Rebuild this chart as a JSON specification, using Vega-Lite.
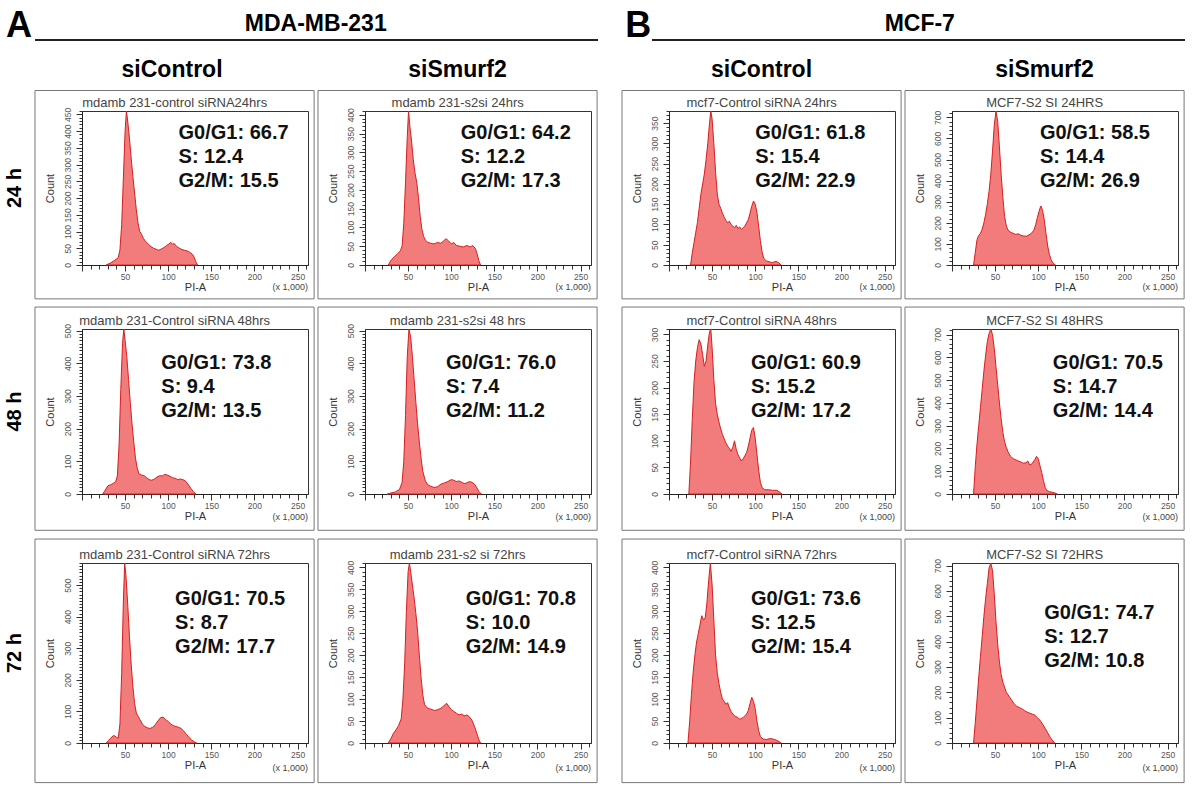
{
"$schema":"https://vega.github.io/schema/vega-lite/v6.json",
"background":"white",
"padding":{"left":4,"top":8,"right":4,"bottom":4},
"config":{
"font":"Liberation Sans",
"view":{"stroke":"#333","strokeWidth":1},
"axis":{"labelFont":"Liberation Sans","labelFontSize":8.5,"labelColor":"#555","titleFont":"Liberation Sans","titleFontSize":11,"titleFontWeight":"normal","titleColor":"#333","domainColor":"#222","tickColor":"#333","grid":false,"labelPadding":1},
"axisX":{"titlePadding":1,"labelFlush":false},
"axisY":{"labelAngle":270,"titlePadding":8,"labelPadding":4},
"title":{"font":"Liberation Sans","color":"#000","fontWeight":"bold"},
"text":{"font":"Liberation Sans"}
},
"datasets":{
"groups":[{"letter":"A","cell_line":"MDA-MB-231"},{"letter":"B","cell_line":"MCF-7"}],
"panels":[
{"panel":"A24c","caption":"mdamb 231-control siRNA24hrs"},
{"panel":"A24s","caption":"mdamb 231-s2si 24hrs"},
{"panel":"A48c","caption":"mdamb 231-Control siRNA 48hrs"},
{"panel":"A48s","caption":"mdamb 231-s2si 48 hrs"},
{"panel":"A72c","caption":"mdamb 231-Control siRNA 72hrs"},
{"panel":"A72s","caption":"mdamb 231-s2 si 72hrs"},
{"panel":"B24c","caption":"mcf7-Control siRNA 24hrs"},
{"panel":"B24s","caption":"MCF7-S2 SI 24HRS"},
{"panel":"B48c","caption":"mcf7-Control siRNA 48hrs"},
{"panel":"B48s","caption":"MCF7-S2 SI 48HRS"},
{"panel":"B72c","caption":"mcf7-Control siRNA 72hrs"},
{"panel":"B72s","caption":"MCF7-S2 SI 72HRS"}],
"stats":[
{"panel":"A24c","line":1,"label":"G0/G1: 66.7"},{"panel":"A24c","line":2,"label":"S: 12.4"},{"panel":"A24c","line":3,"label":"G2/M: 15.5"},
{"panel":"A24s","line":1,"label":"G0/G1: 64.2"},{"panel":"A24s","line":2,"label":"S: 12.2"},{"panel":"A24s","line":3,"label":"G2/M: 17.3"},
{"panel":"A48c","line":1,"label":"G0/G1: 73.8"},{"panel":"A48c","line":2,"label":"S: 9.4"},{"panel":"A48c","line":3,"label":"G2/M: 13.5"},
{"panel":"A48s","line":1,"label":"G0/G1: 76.0"},{"panel":"A48s","line":2,"label":"S: 7.4"},{"panel":"A48s","line":3,"label":"G2/M: 11.2"},
{"panel":"A72c","line":1,"label":"G0/G1: 70.5"},{"panel":"A72c","line":2,"label":"S: 8.7"},{"panel":"A72c","line":3,"label":"G2/M: 17.7"},
{"panel":"A72s","line":1,"label":"G0/G1: 70.8"},{"panel":"A72s","line":2,"label":"S: 10.0"},{"panel":"A72s","line":3,"label":"G2/M: 14.9"},
{"panel":"B24c","line":1,"label":"G0/G1: 61.8"},{"panel":"B24c","line":2,"label":"S: 15.4"},{"panel":"B24c","line":3,"label":"G2/M: 22.9"},
{"panel":"B24s","line":1,"label":"G0/G1: 58.5"},{"panel":"B24s","line":2,"label":"S: 14.4"},{"panel":"B24s","line":3,"label":"G2/M: 26.9"},
{"panel":"B48c","line":1,"label":"G0/G1: 60.9"},{"panel":"B48c","line":2,"label":"S: 15.2"},{"panel":"B48c","line":3,"label":"G2/M: 17.2"},
{"panel":"B48s","line":1,"label":"G0/G1: 70.5"},{"panel":"B48s","line":2,"label":"S: 14.7"},{"panel":"B48s","line":3,"label":"G2/M: 14.4"},
{"panel":"B72c","line":1,"label":"G0/G1: 73.6"},{"panel":"B72c","line":2,"label":"S: 12.5"},{"panel":"B72c","line":3,"label":"G2/M: 15.4"},
{"panel":"B72s","line":1,"label":"G0/G1: 74.7"},{"panel":"B72s","line":2,"label":"S: 12.7"},{"panel":"B72s","line":3,"label":"G2/M: 10.8"}],
"hist":[
{"panel":"A24c","pia":28,"count":0},{"panel":"A24c","pia":33,"count":6},{"panel":"A24c","pia":38,"count":14},{"panel":"A24c","pia":42,"count":22},{"panel":"A24c","pia":44,"count":45},{"panel":"A24c","pia":46,"count":120},{"panel":"A24c","pia":48,"count":260},{"panel":"A24c","pia":50,"count":400},{"panel":"A24c","pia":51.5,"count":460},{"panel":"A24c","pia":53,"count":430},{"panel":"A24c","pia":55,"count":380},{"panel":"A24c","pia":57,"count":320},{"panel":"A24c","pia":59,"count":265},{"panel":"A24c","pia":61,"count":215},{"panel":"A24c","pia":63,"count":165},{"panel":"A24c","pia":65,"count":125},{"panel":"A24c","pia":67,"count":100},{"panel":"A24c","pia":69,"count":92},{"panel":"A24c","pia":71,"count":80},{"panel":"A24c","pia":74,"count":70},{"panel":"A24c","pia":77,"count":62},{"panel":"A24c","pia":80,"count":55},{"panel":"A24c","pia":83,"count":50},{"panel":"A24c","pia":86,"count":47},{"panel":"A24c","pia":89,"count":44},{"panel":"A24c","pia":92,"count":48},{"panel":"A24c","pia":95,"count":52},{"panel":"A24c","pia":98,"count":58},{"panel":"A24c","pia":101,"count":63},{"panel":"A24c","pia":103,"count":68},{"panel":"A24c","pia":105,"count":62},{"panel":"A24c","pia":107,"count":64},{"panel":"A24c","pia":110,"count":55},{"panel":"A24c","pia":113,"count":50},{"panel":"A24c","pia":116,"count":46},{"panel":"A24c","pia":119,"count":44},{"panel":"A24c","pia":122,"count":42},{"panel":"A24c","pia":125,"count":38},{"panel":"A24c","pia":128,"count":32},{"panel":"A24c","pia":130,"count":24},{"panel":"A24c","pia":132,"count":10},{"panel":"A24c","pia":134,"count":0},
{"panel":"A24s","pia":27,"count":0},{"panel":"A24s","pia":30,"count":12},{"panel":"A24s","pia":34,"count":22},{"panel":"A24s","pia":38,"count":30},{"panel":"A24s","pia":41,"count":38},{"panel":"A24s","pia":43,"count":50},{"panel":"A24s","pia":45,"count":110},{"panel":"A24s","pia":47,"count":220},{"panel":"A24s","pia":49,"count":340},{"panel":"A24s","pia":50.5,"count":410},{"panel":"A24s","pia":52,"count":370},{"panel":"A24s","pia":54,"count":330},{"panel":"A24s","pia":56,"count":280},{"panel":"A24s","pia":58,"count":245},{"panel":"A24s","pia":60,"count":220},{"panel":"A24s","pia":62,"count":180},{"panel":"A24s","pia":64,"count":130},{"panel":"A24s","pia":66,"count":95},{"panel":"A24s","pia":68,"count":76},{"panel":"A24s","pia":70,"count":66},{"panel":"A24s","pia":73,"count":60},{"panel":"A24s","pia":76,"count":58},{"panel":"A24s","pia":80,"count":56},{"panel":"A24s","pia":84,"count":60},{"panel":"A24s","pia":88,"count":58},{"panel":"A24s","pia":91,"count":64},{"panel":"A24s","pia":94,"count":70},{"panel":"A24s","pia":97,"count":64},{"panel":"A24s","pia":100,"count":56},{"panel":"A24s","pia":103,"count":60},{"panel":"A24s","pia":106,"count":52},{"panel":"A24s","pia":110,"count":50},{"panel":"A24s","pia":114,"count":48},{"panel":"A24s","pia":118,"count":52},{"panel":"A24s","pia":122,"count":48},{"panel":"A24s","pia":125,"count":52},{"panel":"A24s","pia":128,"count":44},{"panel":"A24s","pia":130,"count":30},{"panel":"A24s","pia":132,"count":12},{"panel":"A24s","pia":134,"count":0},
{"panel":"A48c","pia":24,"count":0},{"panel":"A48c","pia":27,"count":12},{"panel":"A48c","pia":30,"count":25},{"panel":"A48c","pia":33,"count":28},{"panel":"A48c","pia":36,"count":32},{"panel":"A48c","pia":39,"count":38},{"panel":"A48c","pia":41,"count":55},{"panel":"A48c","pia":43,"count":150},{"panel":"A48c","pia":45,"count":320},{"panel":"A48c","pia":47,"count":460},{"panel":"A48c","pia":48.5,"count":505},{"panel":"A48c","pia":50,"count":470},{"panel":"A48c","pia":52,"count":420},{"panel":"A48c","pia":54,"count":350},{"panel":"A48c","pia":56,"count":280},{"panel":"A48c","pia":58,"count":215},{"panel":"A48c","pia":60,"count":160},{"panel":"A48c","pia":62,"count":110},{"panel":"A48c","pia":64,"count":80},{"panel":"A48c","pia":66,"count":62},{"panel":"A48c","pia":69,"count":58},{"panel":"A48c","pia":72,"count":56},{"panel":"A48c","pia":75,"count":50},{"panel":"A48c","pia":78,"count":44},{"panel":"A48c","pia":81,"count":42},{"panel":"A48c","pia":84,"count":46},{"panel":"A48c","pia":87,"count":52},{"panel":"A48c","pia":90,"count":56},{"panel":"A48c","pia":93,"count":55},{"panel":"A48c","pia":96,"count":60},{"panel":"A48c","pia":99,"count":58},{"panel":"A48c","pia":102,"count":54},{"panel":"A48c","pia":105,"count":50},{"panel":"A48c","pia":108,"count":48},{"panel":"A48c","pia":111,"count":44},{"panel":"A48c","pia":114,"count":46},{"panel":"A48c","pia":117,"count":44},{"panel":"A48c","pia":120,"count":40},{"panel":"A48c","pia":123,"count":30},{"panel":"A48c","pia":126,"count":18},{"panel":"A48c","pia":129,"count":8},{"panel":"A48c","pia":132,"count":0},
{"panel":"A48s","pia":26,"count":0},{"panel":"A48s","pia":30,"count":3},{"panel":"A48s","pia":35,"count":6},{"panel":"A48s","pia":40,"count":14},{"panel":"A48s","pia":43,"count":35},{"panel":"A48s","pia":45,"count":100},{"panel":"A48s","pia":47,"count":240},{"panel":"A48s","pia":49,"count":420},{"panel":"A48s","pia":51,"count":505},{"panel":"A48s","pia":53,"count":480},{"panel":"A48s","pia":55,"count":420},{"panel":"A48s","pia":57,"count":350},{"panel":"A48s","pia":59,"count":280},{"panel":"A48s","pia":61,"count":215},{"panel":"A48s","pia":63,"count":160},{"panel":"A48s","pia":65,"count":110},{"panel":"A48s","pia":67,"count":70},{"panel":"A48s","pia":70,"count":40},{"panel":"A48s","pia":73,"count":28},{"panel":"A48s","pia":76,"count":24},{"panel":"A48s","pia":80,"count":20},{"panel":"A48s","pia":84,"count":22},{"panel":"A48s","pia":88,"count":30},{"panel":"A48s","pia":92,"count":34},{"panel":"A48s","pia":96,"count":38},{"panel":"A48s","pia":100,"count":44},{"panel":"A48s","pia":103,"count":42},{"panel":"A48s","pia":106,"count":38},{"panel":"A48s","pia":109,"count":40},{"panel":"A48s","pia":112,"count":36},{"panel":"A48s","pia":115,"count":32},{"panel":"A48s","pia":118,"count":34},{"panel":"A48s","pia":121,"count":38},{"panel":"A48s","pia":124,"count":36},{"panel":"A48s","pia":127,"count":30},{"panel":"A48s","pia":130,"count":18},{"panel":"A48s","pia":132,"count":8},{"panel":"A48s","pia":135,"count":0},
{"panel":"A72c","pia":28,"count":0},{"panel":"A72c","pia":31,"count":8},{"panel":"A72c","pia":34,"count":18},{"panel":"A72c","pia":37,"count":24},{"panel":"A72c","pia":40,"count":18},{"panel":"A72c","pia":42,"count":15},{"panel":"A72c","pia":44,"count":60},{"panel":"A72c","pia":46,"count":220},{"panel":"A72c","pia":48,"count":450},{"panel":"A72c","pia":49.5,"count":570},{"panel":"A72c","pia":51,"count":530},{"panel":"A72c","pia":53,"count":440},{"panel":"A72c","pia":55,"count":340},{"panel":"A72c","pia":57,"count":250},{"panel":"A72c","pia":59,"count":180},{"panel":"A72c","pia":61,"count":125},{"panel":"A72c","pia":63,"count":95},{"panel":"A72c","pia":65,"count":85},{"panel":"A72c","pia":67,"count":75},{"panel":"A72c","pia":70,"count":60},{"panel":"A72c","pia":73,"count":52},{"panel":"A72c","pia":76,"count":48},{"panel":"A72c","pia":79,"count":46},{"panel":"A72c","pia":82,"count":50},{"panel":"A72c","pia":85,"count":58},{"panel":"A72c","pia":88,"count":70},{"panel":"A72c","pia":91,"count":80},{"panel":"A72c","pia":94,"count":82},{"panel":"A72c","pia":97,"count":74},{"panel":"A72c","pia":100,"count":68},{"panel":"A72c","pia":103,"count":60},{"panel":"A72c","pia":106,"count":55},{"panel":"A72c","pia":109,"count":52},{"panel":"A72c","pia":112,"count":50},{"panel":"A72c","pia":115,"count":46},{"panel":"A72c","pia":118,"count":38},{"panel":"A72c","pia":121,"count":28},{"panel":"A72c","pia":124,"count":18},{"panel":"A72c","pia":127,"count":10},{"panel":"A72c","pia":130,"count":4},{"panel":"A72c","pia":133,"count":0},
{"panel":"A72s","pia":27,"count":0},{"panel":"A72s","pia":30,"count":10},{"panel":"A72s","pia":33,"count":22},{"panel":"A72s","pia":36,"count":30},{"panel":"A72s","pia":39,"count":40},{"panel":"A72s","pia":42,"count":55},{"panel":"A72s","pia":44,"count":100},{"panel":"A72s","pia":46,"count":180},{"panel":"A72s","pia":48,"count":300},{"panel":"A72s","pia":50,"count":390},{"panel":"A72s","pia":51.5,"count":410},{"panel":"A72s","pia":53,"count":390},{"panel":"A72s","pia":55,"count":360},{"panel":"A72s","pia":57,"count":330},{"panel":"A72s","pia":59,"count":295},{"panel":"A72s","pia":61,"count":255},{"panel":"A72s","pia":63,"count":200},{"panel":"A72s","pia":65,"count":150},{"panel":"A72s","pia":67,"count":110},{"panel":"A72s","pia":69,"count":88},{"panel":"A72s","pia":72,"count":80},{"panel":"A72s","pia":75,"count":78},{"panel":"A72s","pia":78,"count":76},{"panel":"A72s","pia":81,"count":74},{"panel":"A72s","pia":84,"count":76},{"panel":"A72s","pia":87,"count":78},{"panel":"A72s","pia":90,"count":82},{"panel":"A72s","pia":93,"count":88},{"panel":"A72s","pia":95,"count":90},{"panel":"A72s","pia":97,"count":84},{"panel":"A72s","pia":100,"count":76},{"panel":"A72s","pia":103,"count":72},{"panel":"A72s","pia":106,"count":68},{"panel":"A72s","pia":109,"count":64},{"panel":"A72s","pia":112,"count":66},{"panel":"A72s","pia":115,"count":62},{"panel":"A72s","pia":118,"count":64},{"panel":"A72s","pia":121,"count":60},{"panel":"A72s","pia":124,"count":52},{"panel":"A72s","pia":127,"count":38},{"panel":"A72s","pia":130,"count":20},{"panel":"A72s","pia":132,"count":8},{"panel":"A72s","pia":134,"count":0},
{"panel":"B24c","pia":25,"count":0},{"panel":"B24c","pia":27,"count":30},{"panel":"B24c","pia":29,"count":55},{"panel":"B24c","pia":31,"count":80},{"panel":"B24c","pia":33,"count":105},{"panel":"B24c","pia":35,"count":140},{"panel":"B24c","pia":37,"count":175},{"panel":"B24c","pia":39,"count":200},{"panel":"B24c","pia":41,"count":225},{"panel":"B24c","pia":43,"count":260},{"panel":"B24c","pia":45,"count":300},{"panel":"B24c","pia":47,"count":350},{"panel":"B24c","pia":48.5,"count":380},{"panel":"B24c","pia":50,"count":360},{"panel":"B24c","pia":52,"count":300},{"panel":"B24c","pia":54,"count":230},{"panel":"B24c","pia":56,"count":175},{"panel":"B24c","pia":58,"count":150},{"panel":"B24c","pia":60,"count":140},{"panel":"B24c","pia":62,"count":128},{"panel":"B24c","pia":64,"count":118},{"panel":"B24c","pia":66,"count":110},{"panel":"B24c","pia":68,"count":104},{"panel":"B24c","pia":70,"count":108},{"panel":"B24c","pia":72,"count":100},{"panel":"B24c","pia":74,"count":96},{"panel":"B24c","pia":76,"count":92},{"panel":"B24c","pia":78,"count":98},{"panel":"B24c","pia":80,"count":90},{"panel":"B24c","pia":82,"count":94},{"panel":"B24c","pia":84,"count":88},{"panel":"B24c","pia":86,"count":92},{"panel":"B24c","pia":88,"count":96},{"panel":"B24c","pia":90,"count":104},{"panel":"B24c","pia":92,"count":112},{"panel":"B24c","pia":94,"count":128},{"panel":"B24c","pia":96,"count":145},{"panel":"B24c","pia":98,"count":158},{"panel":"B24c","pia":100,"count":150},{"panel":"B24c","pia":102,"count":130},{"panel":"B24c","pia":104,"count":95},{"panel":"B24c","pia":106,"count":60},{"panel":"B24c","pia":108,"count":32},{"panel":"B24c","pia":110,"count":16},{"panel":"B24c","pia":113,"count":10},{"panel":"B24c","pia":116,"count":8},{"panel":"B24c","pia":120,"count":6},{"panel":"B24c","pia":124,"count":9},{"panel":"B24c","pia":127,"count":6},{"panel":"B24c","pia":130,"count":0},
{"panel":"B24s","pia":25,"count":0},{"panel":"B24s","pia":27,"count":60},{"panel":"B24s","pia":29,"count":120},{"panel":"B24s","pia":31,"count":140},{"panel":"B24s","pia":33,"count":150},{"panel":"B24s","pia":35,"count":170},{"panel":"B24s","pia":37,"count":200},{"panel":"B24s","pia":39,"count":240},{"panel":"B24s","pia":41,"count":290},{"panel":"B24s","pia":43,"count":350},{"panel":"B24s","pia":45,"count":430},{"panel":"B24s","pia":47,"count":540},{"panel":"B24s","pia":49,"count":660},{"panel":"B24s","pia":51,"count":730},{"panel":"B24s","pia":53,"count":680},{"panel":"B24s","pia":55,"count":560},{"panel":"B24s","pia":57,"count":430},{"panel":"B24s","pia":59,"count":320},{"panel":"B24s","pia":61,"count":230},{"panel":"B24s","pia":63,"count":185},{"panel":"B24s","pia":65,"count":165},{"panel":"B24s","pia":68,"count":155},{"panel":"B24s","pia":71,"count":150},{"panel":"B24s","pia":74,"count":145},{"panel":"B24s","pia":77,"count":148},{"panel":"B24s","pia":80,"count":140},{"panel":"B24s","pia":83,"count":138},{"panel":"B24s","pia":86,"count":136},{"panel":"B24s","pia":89,"count":142},{"panel":"B24s","pia":92,"count":150},{"panel":"B24s","pia":95,"count":165},{"panel":"B24s","pia":97,"count":190},{"panel":"B24s","pia":99,"count":225},{"panel":"B24s","pia":101,"count":255},{"panel":"B24s","pia":103,"count":280},{"panel":"B24s","pia":105,"count":260},{"panel":"B24s","pia":107,"count":215},{"panel":"B24s","pia":109,"count":150},{"panel":"B24s","pia":111,"count":90},{"panel":"B24s","pia":113,"count":50},{"panel":"B24s","pia":115,"count":25},{"panel":"B24s","pia":117,"count":10},{"panel":"B24s","pia":120,"count":0},
{"panel":"B48c","pia":23,"count":0},{"panel":"B48c","pia":25,"count":60},{"panel":"B48c","pia":27,"count":140},{"panel":"B48c","pia":29,"count":210},{"panel":"B48c","pia":31,"count":250},{"panel":"B48c","pia":33,"count":275},{"panel":"B48c","pia":35,"count":290},{"panel":"B48c","pia":37,"count":282},{"panel":"B48c","pia":39,"count":262},{"panel":"B48c","pia":41,"count":240},{"panel":"B48c","pia":43,"count":250},{"panel":"B48c","pia":45,"count":280},{"panel":"B48c","pia":47,"count":305},{"panel":"B48c","pia":48.5,"count":310},{"panel":"B48c","pia":50,"count":275},{"panel":"B48c","pia":52,"count":215},{"panel":"B48c","pia":54,"count":170},{"panel":"B48c","pia":56,"count":150},{"panel":"B48c","pia":58,"count":135},{"panel":"B48c","pia":60,"count":122},{"panel":"B48c","pia":62,"count":112},{"panel":"B48c","pia":64,"count":104},{"panel":"B48c","pia":66,"count":96},{"panel":"B48c","pia":68,"count":90},{"panel":"B48c","pia":70,"count":86},{"panel":"B48c","pia":72,"count":80},{"panel":"B48c","pia":74,"count":88},{"panel":"B48c","pia":76,"count":100},{"panel":"B48c","pia":78,"count":84},{"panel":"B48c","pia":80,"count":74},{"panel":"B48c","pia":82,"count":68},{"panel":"B48c","pia":84,"count":62},{"panel":"B48c","pia":86,"count":66},{"panel":"B48c","pia":88,"count":72},{"panel":"B48c","pia":90,"count":78},{"panel":"B48c","pia":92,"count":90},{"panel":"B48c","pia":94,"count":105},{"panel":"B48c","pia":96,"count":120},{"panel":"B48c","pia":98,"count":125},{"panel":"B48c","pia":100,"count":105},{"panel":"B48c","pia":102,"count":75},{"panel":"B48c","pia":104,"count":45},{"panel":"B48c","pia":106,"count":22},{"panel":"B48c","pia":108,"count":12},{"panel":"B48c","pia":111,"count":8},{"panel":"B48c","pia":115,"count":8},{"panel":"B48c","pia":120,"count":7},{"panel":"B48c","pia":125,"count":7},{"panel":"B48c","pia":128,"count":4},{"panel":"B48c","pia":131,"count":0},
{"panel":"B48s","pia":25,"count":0},{"panel":"B48s","pia":27,"count":120},{"panel":"B48s","pia":29,"count":220},{"panel":"B48s","pia":31,"count":300},{"panel":"B48s","pia":33,"count":380},{"panel":"B48s","pia":35,"count":460},{"panel":"B48s","pia":37,"count":540},{"panel":"B48s","pia":39,"count":610},{"panel":"B48s","pia":41,"count":670},{"panel":"B48s","pia":43,"count":705},{"panel":"B48s","pia":45,"count":725},{"panel":"B48s","pia":47,"count":700},{"panel":"B48s","pia":49,"count":640},{"panel":"B48s","pia":51,"count":560},{"panel":"B48s","pia":53,"count":480},{"panel":"B48s","pia":55,"count":400},{"panel":"B48s","pia":57,"count":330},{"panel":"B48s","pia":59,"count":270},{"panel":"B48s","pia":61,"count":230},{"panel":"B48s","pia":63,"count":205},{"panel":"B48s","pia":65,"count":185},{"panel":"B48s","pia":68,"count":165},{"panel":"B48s","pia":71,"count":155},{"panel":"B48s","pia":74,"count":150},{"panel":"B48s","pia":77,"count":145},{"panel":"B48s","pia":80,"count":140},{"panel":"B48s","pia":83,"count":135},{"panel":"B48s","pia":86,"count":138},{"panel":"B48s","pia":88,"count":145},{"panel":"B48s","pia":90,"count":128},{"panel":"B48s","pia":92,"count":130},{"panel":"B48s","pia":94,"count":140},{"panel":"B48s","pia":96,"count":150},{"panel":"B48s","pia":98,"count":165},{"panel":"B48s","pia":100,"count":155},{"panel":"B48s","pia":102,"count":125},{"panel":"B48s","pia":104,"count":95},{"panel":"B48s","pia":106,"count":60},{"panel":"B48s","pia":108,"count":30},{"panel":"B48s","pia":110,"count":15},{"panel":"B48s","pia":113,"count":10},{"panel":"B48s","pia":116,"count":8},{"panel":"B48s","pia":119,"count":5},{"panel":"B48s","pia":122,"count":0},
{"panel":"B72c","pia":22,"count":0},{"panel":"B72c","pia":24,"count":50},{"panel":"B72c","pia":26,"count":110},{"panel":"B72c","pia":28,"count":160},{"panel":"B72c","pia":30,"count":200},{"panel":"B72c","pia":32,"count":230},{"panel":"B72c","pia":34,"count":250},{"panel":"B72c","pia":36,"count":270},{"panel":"B72c","pia":38,"count":290},{"panel":"B72c","pia":40,"count":280},{"panel":"B72c","pia":42,"count":285},{"panel":"B72c","pia":44,"count":320},{"panel":"B72c","pia":46,"count":370},{"panel":"B72c","pia":48,"count":410},{"panel":"B72c","pia":50,"count":360},{"panel":"B72c","pia":52,"count":280},{"panel":"B72c","pia":54,"count":200},{"panel":"B72c","pia":56,"count":160},{"panel":"B72c","pia":58,"count":135},{"panel":"B72c","pia":60,"count":115},{"panel":"B72c","pia":62,"count":100},{"panel":"B72c","pia":64,"count":95},{"panel":"B72c","pia":66,"count":88},{"panel":"B72c","pia":68,"count":92},{"panel":"B72c","pia":70,"count":80},{"panel":"B72c","pia":72,"count":72},{"panel":"B72c","pia":74,"count":66},{"panel":"B72c","pia":76,"count":62},{"panel":"B72c","pia":78,"count":60},{"panel":"B72c","pia":80,"count":58},{"panel":"B72c","pia":82,"count":54},{"panel":"B72c","pia":84,"count":56},{"panel":"B72c","pia":86,"count":58},{"panel":"B72c","pia":88,"count":62},{"panel":"B72c","pia":90,"count":66},{"panel":"B72c","pia":92,"count":74},{"panel":"B72c","pia":94,"count":90},{"panel":"B72c","pia":96,"count":104},{"panel":"B72c","pia":98,"count":95},{"panel":"B72c","pia":100,"count":78},{"panel":"B72c","pia":102,"count":50},{"panel":"B72c","pia":104,"count":28},{"panel":"B72c","pia":106,"count":15},{"panel":"B72c","pia":109,"count":9},{"panel":"B72c","pia":113,"count":8},{"panel":"B72c","pia":117,"count":10},{"panel":"B72c","pia":121,"count":9},{"panel":"B72c","pia":125,"count":6},{"panel":"B72c","pia":128,"count":3},{"panel":"B72c","pia":130,"count":0},
{"panel":"B72s","pia":25,"count":0},{"panel":"B72s","pia":27,"count":80},{"panel":"B72s","pia":29,"count":170},{"panel":"B72s","pia":31,"count":260},{"panel":"B72s","pia":33,"count":340},{"panel":"B72s","pia":35,"count":420},{"panel":"B72s","pia":37,"count":500},{"panel":"B72s","pia":39,"count":570},{"panel":"B72s","pia":41,"count":630},{"panel":"B72s","pia":43,"count":690},{"panel":"B72s","pia":45,"count":710},{"panel":"B72s","pia":47,"count":680},{"panel":"B72s","pia":49,"count":590},{"panel":"B72s","pia":51,"count":480},{"panel":"B72s","pia":53,"count":390},{"panel":"B72s","pia":55,"count":320},{"panel":"B72s","pia":57,"count":270},{"panel":"B72s","pia":59,"count":240},{"panel":"B72s","pia":61,"count":220},{"panel":"B72s","pia":63,"count":200},{"panel":"B72s","pia":66,"count":185},{"panel":"B72s","pia":69,"count":170},{"panel":"B72s","pia":72,"count":155},{"panel":"B72s","pia":75,"count":145},{"panel":"B72s","pia":78,"count":140},{"panel":"B72s","pia":81,"count":135},{"panel":"B72s","pia":84,"count":128},{"panel":"B72s","pia":87,"count":122},{"panel":"B72s","pia":90,"count":118},{"panel":"B72s","pia":93,"count":114},{"panel":"B72s","pia":96,"count":110},{"panel":"B72s","pia":99,"count":100},{"panel":"B72s","pia":102,"count":90},{"panel":"B72s","pia":105,"count":75},{"panel":"B72s","pia":108,"count":58},{"panel":"B72s","pia":111,"count":40},{"panel":"B72s","pia":114,"count":22},{"panel":"B72s","pia":117,"count":8},{"panel":"B72s","pia":119,"count":0}
]
},
"spacing":21,
"hconcat":[
{"spacing":14,"vconcat":[
 {"width":516,"height":1,"view":{"stroke":null},"data":{"name":"groups"},"transform":[{"filter":{"field":"letter","equal":"A"}}],
  "layer":[
   {"mark":{"type":"rule","color":"#222","strokeWidth":2},"encoding":{"x":{"datum":-0.091,"scale":{"domain":[0,1],"nice":false},"axis":null},"x2":{"datum":1},"y":{"datum":0,"scale":{"domain":[0,1],"nice":false},"axis":null}}},
   {"mark":{"type":"text","fontSize":36,"fontWeight":"bold","align":"right","baseline":"alphabetic","dx":-3,"dy":-3,"color":"#000"},"encoding":{"text":{"field":"letter"},"x":{"datum":-0.091},"y":{"datum":0}}},
   {"mark":{"type":"text","fontSize":23,"fontWeight":"bold","align":"center","baseline":"alphabetic","dy":-9,"color":"#000"},"encoding":{"text":{"field":"cell_line"},"x":{"datum":0.453},"y":{"datum":0}}}
  ]},
 {"spacing":0,"hconcat":[
  {"title":{"text":"siControl","fontSize":23,"anchor":"middle","offset":8,"dx":12},"spacing":6,"vconcat":[
   {"width":226,"height":154,"title":{"text":"24 h","orient":"left","fontSize":20,"anchor":"middle","offset":9},"resolve":{"scale":{"x":"independent","y":"independent"}},"layer":[
    {"data":{"name":"hist"},"transform":[{"filter":{"field":"panel","equal":"A24c"}}],"mark":{"type":"area","fill":"#F27B7B","stroke":"#D81E1E","strokeWidth":1},"encoding":{"x":{"field":"pia","type":"quantitative","scale":{"domain":[0,262.144],"nice":false,"zero":false},"axis":{"title":"PI-A","tickCount":26,"labelExpr":"datum.value % 50 === 0 && datum.value > 0 ? datum.label : ''","tickSize":{"condition":{"test":"datum.value % 50 === 0","value":6},"value":4}}},"y":{"field":"count","type":"quantitative","scale":{"domain":[0,460],"nice":false},"axis":{"title":"Count","tickCount":46,"labelExpr":"datum.value % 50 === 0 ? datum.label : ''","tickSize":{"condition":{"test":"datum.value % 50 === 0","value":6},"value":3}}}}},
    {"data":{"name":"panels"},"transform":[{"filter":{"field":"panel","equal":"A24c"}}],"mark":{"type":"rect","filled":false,"color":"#777","strokeWidth":1},"encoding":{"x":{"datum":-0.208,"scale":{"domain":[0,1],"nice":false},"axis":null},"x2":{"datum":1.027},"y":{"datum":-0.22,"scale":{"domain":[0,1],"nice":false},"axis":null},"y2":{"datum":1.133}}},
    {"data":{"name":"panels"},"transform":[{"filter":{"field":"panel","equal":"A24c"}}],"mark":{"type":"text","fontSize":13,"color":"#444","baseline":"bottom","dy":-1},"encoding":{"text":{"field":"caption"},"x":{"datum":0.41,"scale":{"domain":[0,1],"nice":false},"axis":null},"y":{"datum":1,"scale":{"domain":[0,1],"nice":false},"axis":null}}},
    {"data":{"name":"panels"},"transform":[{"filter":{"field":"panel","equal":"A24c"}}],"mark":{"type":"text","fontSize":9,"color":"#444","align":"right","baseline":"middle"},"encoding":{"text":{"value":"(x 1,000)"},"x":{"datum":1,"scale":{"domain":[0,1],"nice":false},"axis":null},"y":{"datum":-0.14,"scale":{"domain":[0,1],"nice":false},"axis":null}}},
    {"data":{"name":"stats"},"transform":[{"filter":{"field":"panel","equal":"A24c"}}],"mark":{"type":"text","fontSize":20,"fontWeight":"bold","color":"#111","align":"left","baseline":"middle"},"encoding":{"text":{"field":"label"},"x":{"datum":112,"scale":{"domain":[0,262.144],"nice":false},"axis":null},"y":{"field":"line","type":"quantitative","scale":{"domain":[0.083,6.5],"reverse":true,"nice":false,"zero":false},"axis":null}}}
   ]},
   {"width":226,"height":165,"title":{"text":"48 h","orient":"left","fontSize":20,"anchor":"middle","offset":9},"resolve":{"scale":{"x":"independent","y":"independent"}},"layer":[
    {"data":{"name":"hist"},"transform":[{"filter":{"field":"panel","equal":"A48c"}}],"mark":{"type":"area","fill":"#F27B7B","stroke":"#D81E1E","strokeWidth":1},"encoding":{"x":{"field":"pia","type":"quantitative","scale":{"domain":[0,262.144],"nice":false,"zero":false},"axis":{"title":"PI-A","tickCount":26,"labelExpr":"datum.value % 50 === 0 && datum.value > 0 ? datum.label : ''","tickSize":{"condition":{"test":"datum.value % 50 === 0","value":6},"value":4}}},"y":{"field":"count","type":"quantitative","scale":{"domain":[0,505],"nice":false},"axis":{"title":"Count","tickCount":50,"labelExpr":"datum.value % 100 === 0 ? datum.label : ''","tickSize":{"condition":{"test":"datum.value % 100 === 0","value":6},"value":3}}}}},
    {"data":{"name":"panels"},"transform":[{"filter":{"field":"panel","equal":"A48c"}}],"mark":{"type":"rect","filled":false,"color":"#777","strokeWidth":1},"encoding":{"x":{"datum":-0.208,"scale":{"domain":[0,1],"nice":false},"axis":null},"x2":{"datum":1.027},"y":{"datum":-0.22,"scale":{"domain":[0,1],"nice":false},"axis":null},"y2":{"datum":1.133}}},
    {"data":{"name":"panels"},"transform":[{"filter":{"field":"panel","equal":"A48c"}}],"mark":{"type":"text","fontSize":13,"color":"#444","baseline":"bottom","dy":-1},"encoding":{"text":{"field":"caption"},"x":{"datum":0.41,"scale":{"domain":[0,1],"nice":false},"axis":null},"y":{"datum":1,"scale":{"domain":[0,1],"nice":false},"axis":null}}},
    {"data":{"name":"panels"},"transform":[{"filter":{"field":"panel","equal":"A48c"}}],"mark":{"type":"text","fontSize":9,"color":"#444","align":"right","baseline":"middle"},"encoding":{"text":{"value":"(x 1,000)"},"x":{"datum":1,"scale":{"domain":[0,1],"nice":false},"axis":null},"y":{"datum":-0.14,"scale":{"domain":[0,1],"nice":false},"axis":null}}},
    {"data":{"name":"stats"},"transform":[{"filter":{"field":"panel","equal":"A48c"}}],"mark":{"type":"text","fontSize":20,"fontWeight":"bold","color":"#111","align":"left","baseline":"middle"},"encoding":{"text":{"field":"label"},"x":{"datum":92,"scale":{"domain":[0,262.144],"nice":false},"axis":null},"y":{"field":"line","type":"quantitative","scale":{"domain":[-0.417,6.458],"reverse":true,"nice":false,"zero":false},"axis":null}}}
   ]},
   {"width":226,"height":180,"title":{"text":"72 h","orient":"left","fontSize":20,"anchor":"middle","offset":9},"resolve":{"scale":{"x":"independent","y":"independent"}},"layer":[
    {"data":{"name":"hist"},"transform":[{"filter":{"field":"panel","equal":"A72c"}}],"mark":{"type":"area","fill":"#F27B7B","stroke":"#D81E1E","strokeWidth":1},"encoding":{"x":{"field":"pia","type":"quantitative","scale":{"domain":[0,262.144],"nice":false,"zero":false},"axis":{"title":"PI-A","tickCount":26,"labelExpr":"datum.value % 50 === 0 && datum.value > 0 ? datum.label : ''","tickSize":{"condition":{"test":"datum.value % 50 === 0","value":6},"value":4}}},"y":{"field":"count","type":"quantitative","scale":{"domain":[0,570],"nice":false},"axis":{"title":"Count","tickCount":57,"labelExpr":"datum.value % 100 === 0 ? datum.label : ''","tickSize":{"condition":{"test":"datum.value % 100 === 0","value":6},"value":3}}}}},
    {"data":{"name":"panels"},"transform":[{"filter":{"field":"panel","equal":"A72c"}}],"mark":{"type":"rect","filled":false,"color":"#777","strokeWidth":1},"encoding":{"x":{"datum":-0.208,"scale":{"domain":[0,1],"nice":false},"axis":null},"x2":{"datum":1.027},"y":{"datum":-0.22,"scale":{"domain":[0,1],"nice":false},"axis":null},"y2":{"datum":1.133}}},
    {"data":{"name":"panels"},"transform":[{"filter":{"field":"panel","equal":"A72c"}}],"mark":{"type":"text","fontSize":13,"color":"#444","baseline":"bottom","dy":-1},"encoding":{"text":{"field":"caption"},"x":{"datum":0.41,"scale":{"domain":[0,1],"nice":false},"axis":null},"y":{"datum":1,"scale":{"domain":[0,1],"nice":false},"axis":null}}},
    {"data":{"name":"panels"},"transform":[{"filter":{"field":"panel","equal":"A72c"}}],"mark":{"type":"text","fontSize":9,"color":"#444","align":"right","baseline":"middle"},"encoding":{"text":{"value":"(x 1,000)"},"x":{"datum":1,"scale":{"domain":[0,1],"nice":false},"axis":null},"y":{"datum":-0.14,"scale":{"domain":[0,1],"nice":false},"axis":null}}},
    {"data":{"name":"stats"},"transform":[{"filter":{"field":"panel","equal":"A72c"}}],"mark":{"type":"text","fontSize":20,"fontWeight":"bold","color":"#111","align":"left","baseline":"middle"},"encoding":{"text":{"field":"label"},"x":{"datum":108,"scale":{"domain":[0,262.144],"nice":false},"axis":null},"y":{"field":"line","type":"quantitative","scale":{"domain":[-0.5,7.0],"reverse":true,"nice":false,"zero":false},"axis":null}}}
   ]}
  ]},
  {"title":{"text":"siSmurf2","fontSize":23,"anchor":"middle","offset":8},"spacing":6,"vconcat":[
   {"width":226,"height":154,"resolve":{"scale":{"x":"independent","y":"independent"}},"layer":[
    {"data":{"name":"hist"},"transform":[{"filter":{"field":"panel","equal":"A24s"}}],"mark":{"type":"area","fill":"#F27B7B","stroke":"#D81E1E","strokeWidth":1},"encoding":{"x":{"field":"pia","type":"quantitative","scale":{"domain":[0,262.144],"nice":false,"zero":false},"axis":{"title":"PI-A","tickCount":26,"labelExpr":"datum.value % 50 === 0 && datum.value > 0 ? datum.label : ''","tickSize":{"condition":{"test":"datum.value % 50 === 0","value":6},"value":4}}},"y":{"field":"count","type":"quantitative","scale":{"domain":[0,410],"nice":false},"axis":{"title":"Count","tickCount":41,"labelExpr":"datum.value % 50 === 0 ? datum.label : ''","tickSize":{"condition":{"test":"datum.value % 50 === 0","value":6},"value":3}}}}},
    {"data":{"name":"panels"},"transform":[{"filter":{"field":"panel","equal":"A24s"}}],"mark":{"type":"rect","filled":false,"color":"#777","strokeWidth":1},"encoding":{"x":{"datum":-0.208,"scale":{"domain":[0,1],"nice":false},"axis":null},"x2":{"datum":1.027},"y":{"datum":-0.22,"scale":{"domain":[0,1],"nice":false},"axis":null},"y2":{"datum":1.133}}},
    {"data":{"name":"panels"},"transform":[{"filter":{"field":"panel","equal":"A24s"}}],"mark":{"type":"text","fontSize":13,"color":"#444","baseline":"bottom","dy":-1},"encoding":{"text":{"field":"caption"},"x":{"datum":0.41,"scale":{"domain":[0,1],"nice":false},"axis":null},"y":{"datum":1,"scale":{"domain":[0,1],"nice":false},"axis":null}}},
    {"data":{"name":"panels"},"transform":[{"filter":{"field":"panel","equal":"A24s"}}],"mark":{"type":"text","fontSize":9,"color":"#444","align":"right","baseline":"middle"},"encoding":{"text":{"value":"(x 1,000)"},"x":{"datum":1,"scale":{"domain":[0,1],"nice":false},"axis":null},"y":{"datum":-0.14,"scale":{"domain":[0,1],"nice":false},"axis":null}}},
    {"data":{"name":"stats"},"transform":[{"filter":{"field":"panel","equal":"A24s"}}],"mark":{"type":"text","fontSize":20,"fontWeight":"bold","color":"#111","align":"left","baseline":"middle"},"encoding":{"text":{"field":"label"},"x":{"datum":111,"scale":{"domain":[0,262.144],"nice":false},"axis":null},"y":{"field":"line","type":"quantitative","scale":{"domain":[0.083,6.5],"reverse":true,"nice":false,"zero":false},"axis":null}}}
   ]},
   {"width":226,"height":165,"resolve":{"scale":{"x":"independent","y":"independent"}},"layer":[
    {"data":{"name":"hist"},"transform":[{"filter":{"field":"panel","equal":"A48s"}}],"mark":{"type":"area","fill":"#F27B7B","stroke":"#D81E1E","strokeWidth":1},"encoding":{"x":{"field":"pia","type":"quantitative","scale":{"domain":[0,262.144],"nice":false,"zero":false},"axis":{"title":"PI-A","tickCount":26,"labelExpr":"datum.value % 50 === 0 && datum.value > 0 ? datum.label : ''","tickSize":{"condition":{"test":"datum.value % 50 === 0","value":6},"value":4}}},"y":{"field":"count","type":"quantitative","scale":{"domain":[0,505],"nice":false},"axis":{"title":"Count","tickCount":50,"labelExpr":"datum.value % 100 === 0 ? datum.label : ''","tickSize":{"condition":{"test":"datum.value % 100 === 0","value":6},"value":3}}}}},
    {"data":{"name":"panels"},"transform":[{"filter":{"field":"panel","equal":"A48s"}}],"mark":{"type":"rect","filled":false,"color":"#777","strokeWidth":1},"encoding":{"x":{"datum":-0.208,"scale":{"domain":[0,1],"nice":false},"axis":null},"x2":{"datum":1.027},"y":{"datum":-0.22,"scale":{"domain":[0,1],"nice":false},"axis":null},"y2":{"datum":1.133}}},
    {"data":{"name":"panels"},"transform":[{"filter":{"field":"panel","equal":"A48s"}}],"mark":{"type":"text","fontSize":13,"color":"#444","baseline":"bottom","dy":-1},"encoding":{"text":{"field":"caption"},"x":{"datum":0.41,"scale":{"domain":[0,1],"nice":false},"axis":null},"y":{"datum":1,"scale":{"domain":[0,1],"nice":false},"axis":null}}},
    {"data":{"name":"panels"},"transform":[{"filter":{"field":"panel","equal":"A48s"}}],"mark":{"type":"text","fontSize":9,"color":"#444","align":"right","baseline":"middle"},"encoding":{"text":{"value":"(x 1,000)"},"x":{"datum":1,"scale":{"domain":[0,1],"nice":false},"axis":null},"y":{"datum":-0.14,"scale":{"domain":[0,1],"nice":false},"axis":null}}},
    {"data":{"name":"stats"},"transform":[{"filter":{"field":"panel","equal":"A48s"}}],"mark":{"type":"text","fontSize":20,"fontWeight":"bold","color":"#111","align":"left","baseline":"middle"},"encoding":{"text":{"field":"label"},"x":{"datum":94,"scale":{"domain":[0,262.144],"nice":false},"axis":null},"y":{"field":"line","type":"quantitative","scale":{"domain":[-0.417,6.458],"reverse":true,"nice":false,"zero":false},"axis":null}}}
   ]},
   {"width":226,"height":180,"resolve":{"scale":{"x":"independent","y":"independent"}},"layer":[
    {"data":{"name":"hist"},"transform":[{"filter":{"field":"panel","equal":"A72s"}}],"mark":{"type":"area","fill":"#F27B7B","stroke":"#D81E1E","strokeWidth":1},"encoding":{"x":{"field":"pia","type":"quantitative","scale":{"domain":[0,262.144],"nice":false,"zero":false},"axis":{"title":"PI-A","tickCount":26,"labelExpr":"datum.value % 50 === 0 && datum.value > 0 ? datum.label : ''","tickSize":{"condition":{"test":"datum.value % 50 === 0","value":6},"value":4}}},"y":{"field":"count","type":"quantitative","scale":{"domain":[0,410],"nice":false},"axis":{"title":"Count","tickCount":41,"labelExpr":"datum.value % 50 === 0 ? datum.label : ''","tickSize":{"condition":{"test":"datum.value % 50 === 0","value":6},"value":3}}}}},
    {"data":{"name":"panels"},"transform":[{"filter":{"field":"panel","equal":"A72s"}}],"mark":{"type":"rect","filled":false,"color":"#777","strokeWidth":1},"encoding":{"x":{"datum":-0.208,"scale":{"domain":[0,1],"nice":false},"axis":null},"x2":{"datum":1.027},"y":{"datum":-0.22,"scale":{"domain":[0,1],"nice":false},"axis":null},"y2":{"datum":1.133}}},
    {"data":{"name":"panels"},"transform":[{"filter":{"field":"panel","equal":"A72s"}}],"mark":{"type":"text","fontSize":13,"color":"#444","baseline":"bottom","dy":-1},"encoding":{"text":{"field":"caption"},"x":{"datum":0.41,"scale":{"domain":[0,1],"nice":false},"axis":null},"y":{"datum":1,"scale":{"domain":[0,1],"nice":false},"axis":null}}},
    {"data":{"name":"panels"},"transform":[{"filter":{"field":"panel","equal":"A72s"}}],"mark":{"type":"text","fontSize":9,"color":"#444","align":"right","baseline":"middle"},"encoding":{"text":{"value":"(x 1,000)"},"x":{"datum":1,"scale":{"domain":[0,1],"nice":false},"axis":null},"y":{"datum":-0.14,"scale":{"domain":[0,1],"nice":false},"axis":null}}},
    {"data":{"name":"stats"},"transform":[{"filter":{"field":"panel","equal":"A72s"}}],"mark":{"type":"text","fontSize":20,"fontWeight":"bold","color":"#111","align":"left","baseline":"middle"},"encoding":{"text":{"field":"label"},"x":{"datum":117,"scale":{"domain":[0,262.144],"nice":false},"axis":null},"y":{"field":"line","type":"quantitative","scale":{"domain":[-0.5,7.0],"reverse":true,"nice":false,"zero":false},"axis":null}}}
   ]}
  ]}
 ]}
]},
{"spacing":14,"vconcat":[
 {"width":516,"height":1,"view":{"stroke":null},"data":{"name":"groups"},"transform":[{"filter":{"field":"letter","equal":"B"}}],
  "layer":[
   {"mark":{"type":"rule","color":"#222","strokeWidth":2},"encoding":{"x":{"datum":-0.033,"scale":{"domain":[0,1],"nice":false},"axis":null},"x2":{"datum":1},"y":{"datum":0,"scale":{"domain":[0,1],"nice":false},"axis":null}}},
   {"mark":{"type":"text","fontSize":36,"fontWeight":"bold","align":"left","baseline":"alphabetic","dy":-3,"color":"#000"},"encoding":{"text":{"field":"letter"},"x":{"datum":-0.085},"y":{"datum":0}}},
   {"mark":{"type":"text","fontSize":23,"fontWeight":"bold","align":"center","baseline":"alphabetic","dy":-9,"color":"#000"},"encoding":{"text":{"field":"cell_line"},"x":{"datum":0.486},"y":{"datum":0}}}
  ]},
 {"spacing":0,"hconcat":[
  {"title":{"text":"siControl","fontSize":23,"anchor":"middle","offset":8},"spacing":6,"vconcat":[
   {"width":226,"height":154,"resolve":{"scale":{"x":"independent","y":"independent"}},"layer":[
    {"data":{"name":"hist"},"transform":[{"filter":{"field":"panel","equal":"B24c"}}],"mark":{"type":"area","fill":"#F27B7B","stroke":"#D81E1E","strokeWidth":1},"encoding":{"x":{"field":"pia","type":"quantitative","scale":{"domain":[0,262.144],"nice":false,"zero":false},"axis":{"title":"PI-A","tickCount":26,"labelExpr":"datum.value % 50 === 0 && datum.value > 0 ? datum.label : ''","tickSize":{"condition":{"test":"datum.value % 50 === 0","value":6},"value":4}}},"y":{"field":"count","type":"quantitative","scale":{"domain":[0,380],"nice":false},"axis":{"title":"Count","tickCount":38,"labelExpr":"datum.value % 50 === 0 ? datum.label : ''","tickSize":{"condition":{"test":"datum.value % 50 === 0","value":6},"value":3}}}}},
    {"data":{"name":"panels"},"transform":[{"filter":{"field":"panel","equal":"B24c"}}],"mark":{"type":"rect","filled":false,"color":"#777","strokeWidth":1},"encoding":{"x":{"datum":-0.208,"scale":{"domain":[0,1],"nice":false},"axis":null},"x2":{"datum":1.027},"y":{"datum":-0.22,"scale":{"domain":[0,1],"nice":false},"axis":null},"y2":{"datum":1.133}}},
    {"data":{"name":"panels"},"transform":[{"filter":{"field":"panel","equal":"B24c"}}],"mark":{"type":"text","fontSize":13,"color":"#444","baseline":"bottom","dy":-1},"encoding":{"text":{"field":"caption"},"x":{"datum":0.41,"scale":{"domain":[0,1],"nice":false},"axis":null},"y":{"datum":1,"scale":{"domain":[0,1],"nice":false},"axis":null}}},
    {"data":{"name":"panels"},"transform":[{"filter":{"field":"panel","equal":"B24c"}}],"mark":{"type":"text","fontSize":9,"color":"#444","align":"right","baseline":"middle"},"encoding":{"text":{"value":"(x 1,000)"},"x":{"datum":1,"scale":{"domain":[0,1],"nice":false},"axis":null},"y":{"datum":-0.14,"scale":{"domain":[0,1],"nice":false},"axis":null}}},
    {"data":{"name":"stats"},"transform":[{"filter":{"field":"panel","equal":"B24c"}}],"mark":{"type":"text","fontSize":20,"fontWeight":"bold","color":"#111","align":"left","baseline":"middle"},"encoding":{"text":{"field":"label"},"x":{"datum":100,"scale":{"domain":[0,262.144],"nice":false},"axis":null},"y":{"field":"line","type":"quantitative","scale":{"domain":[0.083,6.5],"reverse":true,"nice":false,"zero":false},"axis":null}}}
   ]},
   {"width":226,"height":165,"resolve":{"scale":{"x":"independent","y":"independent"}},"layer":[
    {"data":{"name":"hist"},"transform":[{"filter":{"field":"panel","equal":"B48c"}}],"mark":{"type":"area","fill":"#F27B7B","stroke":"#D81E1E","strokeWidth":1},"encoding":{"x":{"field":"pia","type":"quantitative","scale":{"domain":[0,262.144],"nice":false,"zero":false},"axis":{"title":"PI-A","tickCount":26,"labelExpr":"datum.value % 50 === 0 && datum.value > 0 ? datum.label : ''","tickSize":{"condition":{"test":"datum.value % 50 === 0","value":6},"value":4}}},"y":{"field":"count","type":"quantitative","scale":{"domain":[0,310],"nice":false},"axis":{"title":"Count","tickCount":31,"labelExpr":"datum.value % 50 === 0 ? datum.label : ''","tickSize":{"condition":{"test":"datum.value % 50 === 0","value":6},"value":3}}}}},
    {"data":{"name":"panels"},"transform":[{"filter":{"field":"panel","equal":"B48c"}}],"mark":{"type":"rect","filled":false,"color":"#777","strokeWidth":1},"encoding":{"x":{"datum":-0.208,"scale":{"domain":[0,1],"nice":false},"axis":null},"x2":{"datum":1.027},"y":{"datum":-0.22,"scale":{"domain":[0,1],"nice":false},"axis":null},"y2":{"datum":1.133}}},
    {"data":{"name":"panels"},"transform":[{"filter":{"field":"panel","equal":"B48c"}}],"mark":{"type":"text","fontSize":13,"color":"#444","baseline":"bottom","dy":-1},"encoding":{"text":{"field":"caption"},"x":{"datum":0.41,"scale":{"domain":[0,1],"nice":false},"axis":null},"y":{"datum":1,"scale":{"domain":[0,1],"nice":false},"axis":null}}},
    {"data":{"name":"panels"},"transform":[{"filter":{"field":"panel","equal":"B48c"}}],"mark":{"type":"text","fontSize":9,"color":"#444","align":"right","baseline":"middle"},"encoding":{"text":{"value":"(x 1,000)"},"x":{"datum":1,"scale":{"domain":[0,1],"nice":false},"axis":null},"y":{"datum":-0.14,"scale":{"domain":[0,1],"nice":false},"axis":null}}},
    {"data":{"name":"stats"},"transform":[{"filter":{"field":"panel","equal":"B48c"}}],"mark":{"type":"text","fontSize":20,"fontWeight":"bold","color":"#111","align":"left","baseline":"middle"},"encoding":{"text":{"field":"label"},"x":{"datum":95,"scale":{"domain":[0,262.144],"nice":false},"axis":null},"y":{"field":"line","type":"quantitative","scale":{"domain":[-0.417,6.458],"reverse":true,"nice":false,"zero":false},"axis":null}}}
   ]},
   {"width":226,"height":180,"resolve":{"scale":{"x":"independent","y":"independent"}},"layer":[
    {"data":{"name":"hist"},"transform":[{"filter":{"field":"panel","equal":"B72c"}}],"mark":{"type":"area","fill":"#F27B7B","stroke":"#D81E1E","strokeWidth":1},"encoding":{"x":{"field":"pia","type":"quantitative","scale":{"domain":[0,262.144],"nice":false,"zero":false},"axis":{"title":"PI-A","tickCount":26,"labelExpr":"datum.value % 50 === 0 && datum.value > 0 ? datum.label : ''","tickSize":{"condition":{"test":"datum.value % 50 === 0","value":6},"value":4}}},"y":{"field":"count","type":"quantitative","scale":{"domain":[0,410],"nice":false},"axis":{"title":"Count","tickCount":41,"labelExpr":"datum.value % 50 === 0 ? datum.label : ''","tickSize":{"condition":{"test":"datum.value % 50 === 0","value":6},"value":3}}}}},
    {"data":{"name":"panels"},"transform":[{"filter":{"field":"panel","equal":"B72c"}}],"mark":{"type":"rect","filled":false,"color":"#777","strokeWidth":1},"encoding":{"x":{"datum":-0.208,"scale":{"domain":[0,1],"nice":false},"axis":null},"x2":{"datum":1.027},"y":{"datum":-0.22,"scale":{"domain":[0,1],"nice":false},"axis":null},"y2":{"datum":1.133}}},
    {"data":{"name":"panels"},"transform":[{"filter":{"field":"panel","equal":"B72c"}}],"mark":{"type":"text","fontSize":13,"color":"#444","baseline":"bottom","dy":-1},"encoding":{"text":{"field":"caption"},"x":{"datum":0.41,"scale":{"domain":[0,1],"nice":false},"axis":null},"y":{"datum":1,"scale":{"domain":[0,1],"nice":false},"axis":null}}},
    {"data":{"name":"panels"},"transform":[{"filter":{"field":"panel","equal":"B72c"}}],"mark":{"type":"text","fontSize":9,"color":"#444","align":"right","baseline":"middle"},"encoding":{"text":{"value":"(x 1,000)"},"x":{"datum":1,"scale":{"domain":[0,1],"nice":false},"axis":null},"y":{"datum":-0.14,"scale":{"domain":[0,1],"nice":false},"axis":null}}},
    {"data":{"name":"stats"},"transform":[{"filter":{"field":"panel","equal":"B72c"}}],"mark":{"type":"text","fontSize":20,"fontWeight":"bold","color":"#111","align":"left","baseline":"middle"},"encoding":{"text":{"field":"label"},"x":{"datum":95,"scale":{"domain":[0,262.144],"nice":false},"axis":null},"y":{"field":"line","type":"quantitative","scale":{"domain":[-0.5,7.0],"reverse":true,"nice":false,"zero":false},"axis":null}}}
   ]}
  ]},
  {"title":{"text":"siSmurf2","fontSize":23,"anchor":"middle","offset":8},"spacing":6,"vconcat":[
   {"width":226,"height":154,"resolve":{"scale":{"x":"independent","y":"independent"}},"layer":[
    {"data":{"name":"hist"},"transform":[{"filter":{"field":"panel","equal":"B24s"}}],"mark":{"type":"area","fill":"#F27B7B","stroke":"#D81E1E","strokeWidth":1},"encoding":{"x":{"field":"pia","type":"quantitative","scale":{"domain":[0,262.144],"nice":false,"zero":false},"axis":{"title":"PI-A","tickCount":26,"labelExpr":"datum.value % 50 === 0 && datum.value > 0 ? datum.label : ''","tickSize":{"condition":{"test":"datum.value % 50 === 0","value":6},"value":4}}},"y":{"field":"count","type":"quantitative","scale":{"domain":[0,730],"nice":false},"axis":{"title":"Count","tickCount":36,"labelExpr":"datum.value % 100 === 0 ? datum.label : ''","tickSize":{"condition":{"test":"datum.value % 100 === 0","value":6},"value":3}}}}},
    {"data":{"name":"panels"},"transform":[{"filter":{"field":"panel","equal":"B24s"}}],"mark":{"type":"rect","filled":false,"color":"#777","strokeWidth":1},"encoding":{"x":{"datum":-0.208,"scale":{"domain":[0,1],"nice":false},"axis":null},"x2":{"datum":1.027},"y":{"datum":-0.22,"scale":{"domain":[0,1],"nice":false},"axis":null},"y2":{"datum":1.133}}},
    {"data":{"name":"panels"},"transform":[{"filter":{"field":"panel","equal":"B24s"}}],"mark":{"type":"text","fontSize":13,"color":"#444","baseline":"bottom","dy":-1},"encoding":{"text":{"field":"caption"},"x":{"datum":0.41,"scale":{"domain":[0,1],"nice":false},"axis":null},"y":{"datum":1,"scale":{"domain":[0,1],"nice":false},"axis":null}}},
    {"data":{"name":"panels"},"transform":[{"filter":{"field":"panel","equal":"B24s"}}],"mark":{"type":"text","fontSize":9,"color":"#444","align":"right","baseline":"middle"},"encoding":{"text":{"value":"(x 1,000)"},"x":{"datum":1,"scale":{"domain":[0,1],"nice":false},"axis":null},"y":{"datum":-0.14,"scale":{"domain":[0,1],"nice":false},"axis":null}}},
    {"data":{"name":"stats"},"transform":[{"filter":{"field":"panel","equal":"B24s"}}],"mark":{"type":"text","fontSize":20,"fontWeight":"bold","color":"#111","align":"left","baseline":"middle"},"encoding":{"text":{"field":"label"},"x":{"datum":102,"scale":{"domain":[0,262.144],"nice":false},"axis":null},"y":{"field":"line","type":"quantitative","scale":{"domain":[0.083,6.5],"reverse":true,"nice":false,"zero":false},"axis":null}}}
   ]},
   {"width":226,"height":165,"resolve":{"scale":{"x":"independent","y":"independent"}},"layer":[
    {"data":{"name":"hist"},"transform":[{"filter":{"field":"panel","equal":"B48s"}}],"mark":{"type":"area","fill":"#F27B7B","stroke":"#D81E1E","strokeWidth":1},"encoding":{"x":{"field":"pia","type":"quantitative","scale":{"domain":[0,262.144],"nice":false,"zero":false},"axis":{"title":"PI-A","tickCount":26,"labelExpr":"datum.value % 50 === 0 && datum.value > 0 ? datum.label : ''","tickSize":{"condition":{"test":"datum.value % 50 === 0","value":6},"value":4}}},"y":{"field":"count","type":"quantitative","scale":{"domain":[0,725],"nice":false},"axis":{"title":"Count","tickCount":36,"labelExpr":"datum.value % 100 === 0 ? datum.label : ''","tickSize":{"condition":{"test":"datum.value % 100 === 0","value":6},"value":3}}}}},
    {"data":{"name":"panels"},"transform":[{"filter":{"field":"panel","equal":"B48s"}}],"mark":{"type":"rect","filled":false,"color":"#777","strokeWidth":1},"encoding":{"x":{"datum":-0.208,"scale":{"domain":[0,1],"nice":false},"axis":null},"x2":{"datum":1.027},"y":{"datum":-0.22,"scale":{"domain":[0,1],"nice":false},"axis":null},"y2":{"datum":1.133}}},
    {"data":{"name":"panels"},"transform":[{"filter":{"field":"panel","equal":"B48s"}}],"mark":{"type":"text","fontSize":13,"color":"#444","baseline":"bottom","dy":-1},"encoding":{"text":{"field":"caption"},"x":{"datum":0.41,"scale":{"domain":[0,1],"nice":false},"axis":null},"y":{"datum":1,"scale":{"domain":[0,1],"nice":false},"axis":null}}},
    {"data":{"name":"panels"},"transform":[{"filter":{"field":"panel","equal":"B48s"}}],"mark":{"type":"text","fontSize":9,"color":"#444","align":"right","baseline":"middle"},"encoding":{"text":{"value":"(x 1,000)"},"x":{"datum":1,"scale":{"domain":[0,1],"nice":false},"axis":null},"y":{"datum":-0.14,"scale":{"domain":[0,1],"nice":false},"axis":null}}},
    {"data":{"name":"stats"},"transform":[{"filter":{"field":"panel","equal":"B48s"}}],"mark":{"type":"text","fontSize":20,"fontWeight":"bold","color":"#111","align":"left","baseline":"middle"},"encoding":{"text":{"field":"label"},"x":{"datum":117,"scale":{"domain":[0,262.144],"nice":false},"axis":null},"y":{"field":"line","type":"quantitative","scale":{"domain":[-0.417,6.458],"reverse":true,"nice":false,"zero":false},"axis":null}}}
   ]},
   {"width":226,"height":180,"resolve":{"scale":{"x":"independent","y":"independent"}},"layer":[
    {"data":{"name":"hist"},"transform":[{"filter":{"field":"panel","equal":"B72s"}}],"mark":{"type":"area","fill":"#F27B7B","stroke":"#D81E1E","strokeWidth":1},"encoding":{"x":{"field":"pia","type":"quantitative","scale":{"domain":[0,262.144],"nice":false,"zero":false},"axis":{"title":"PI-A","tickCount":26,"labelExpr":"datum.value % 50 === 0 && datum.value > 0 ? datum.label : ''","tickSize":{"condition":{"test":"datum.value % 50 === 0","value":6},"value":4}}},"y":{"field":"count","type":"quantitative","scale":{"domain":[0,710],"nice":false},"axis":{"title":"Count","tickCount":35,"labelExpr":"datum.value % 100 === 0 ? datum.label : ''","tickSize":{"condition":{"test":"datum.value % 100 === 0","value":6},"value":3}}}}},
    {"data":{"name":"panels"},"transform":[{"filter":{"field":"panel","equal":"B72s"}}],"mark":{"type":"rect","filled":false,"color":"#777","strokeWidth":1},"encoding":{"x":{"datum":-0.208,"scale":{"domain":[0,1],"nice":false},"axis":null},"x2":{"datum":1.027},"y":{"datum":-0.22,"scale":{"domain":[0,1],"nice":false},"axis":null},"y2":{"datum":1.133}}},
    {"data":{"name":"panels"},"transform":[{"filter":{"field":"panel","equal":"B72s"}}],"mark":{"type":"text","fontSize":13,"color":"#444","baseline":"bottom","dy":-1},"encoding":{"text":{"field":"caption"},"x":{"datum":0.41,"scale":{"domain":[0,1],"nice":false},"axis":null},"y":{"datum":1,"scale":{"domain":[0,1],"nice":false},"axis":null}}},
    {"data":{"name":"panels"},"transform":[{"filter":{"field":"panel","equal":"B72s"}}],"mark":{"type":"text","fontSize":9,"color":"#444","align":"right","baseline":"middle"},"encoding":{"text":{"value":"(x 1,000)"},"x":{"datum":1,"scale":{"domain":[0,1],"nice":false},"axis":null},"y":{"datum":-0.14,"scale":{"domain":[0,1],"nice":false},"axis":null}}},
    {"data":{"name":"stats"},"transform":[{"filter":{"field":"panel","equal":"B72s"}}],"mark":{"type":"text","fontSize":20,"fontWeight":"bold","color":"#111","align":"left","baseline":"middle"},"encoding":{"text":{"field":"label"},"x":{"datum":107,"scale":{"domain":[0,262.144],"nice":false},"axis":null},"y":{"field":"line","type":"quantitative","scale":{"domain":[-1.083,6.417],"reverse":true,"nice":false,"zero":false},"axis":null}}}
   ]}
  ]}
 ]}
]}
]
}
